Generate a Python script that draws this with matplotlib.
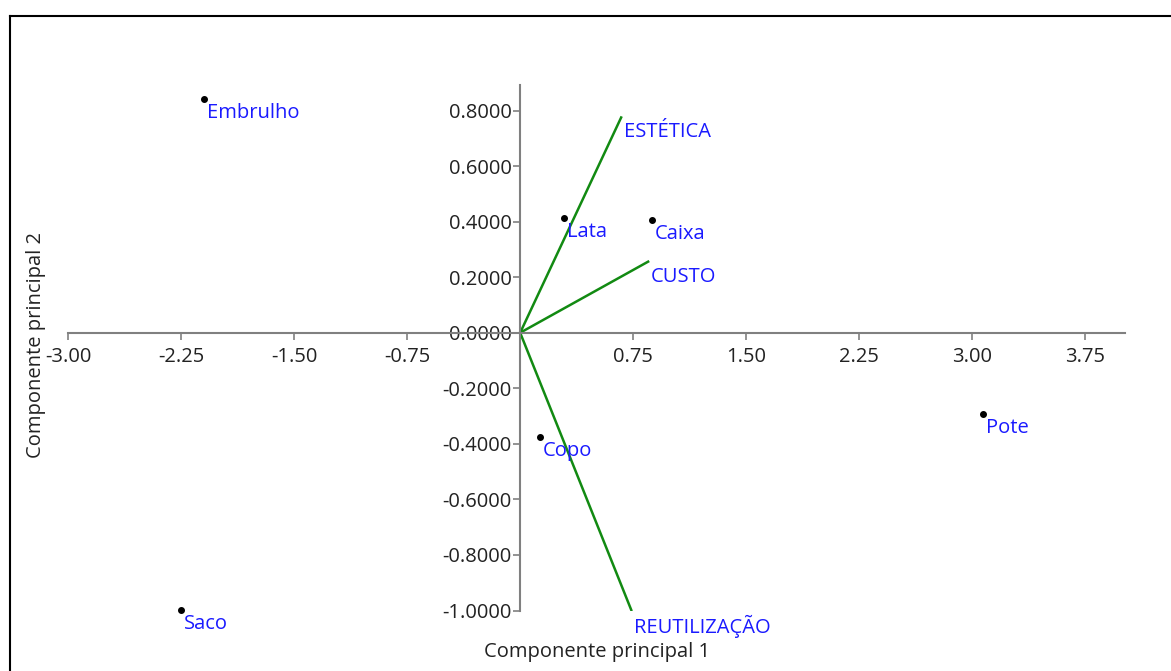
import matplotlib.pyplot as plt
from matplotlib.lines import Line2D

plt.rcParams['font.family'] = ['Open Sans', 'DejaVu Sans']

# scores (objects)
objects = ['Embrulho', 'Lata', 'Caixa', 'Copo', 'Pote', 'Saco']
obj_x = [-2.097, 0.292, 0.876, 0.133, 3.072, -2.25]
obj_y = [0.843, 0.414, 0.407, -0.375, -0.292, -0.998]

# loadings (variables)
variables = ['ESTÉTICA', 'CUSTO', 'REUTILIZAÇÃO']
var_x = [0.670, 0.849, 0.737]
var_y = [0.775, 0.256, -0.998]

xticks = [-3.00, -2.25, -1.50, -0.75, 0.75, 1.50, 2.25, 3.00, 3.75]
yticks = [-1.0, -0.8, -0.6, -0.4, -0.2, 0.0, 0.2, 0.4, 0.6, 0.8]

W, H = 1171, 671
fig = plt.figure(figsize=(W / 100, H / 100), dpi=100)
ax = fig.add_axes([68 / W, (H - 610.5) / H, (1125 - 68) / W, (610.5 - 85) / H])
ax.set_xlim(-3.0, 4.013)
ax.set_ylim(-1.0, 0.892)

# frame around the picture (only left and top visible)
fig.add_artist(Line2D([10 / W, 10 / W], [0, (H - 15.5) / H], color='black', lw=1.5))
fig.add_artist(Line2D([10 / W, 1], [(H - 15.5) / H] * 2, color='black', lw=1.5))

for s in ['top', 'right']:
    ax.spines[s].set_visible(False)
ax.spines['left'].set_position(('data', 0))
ax.spines['bottom'].set_position(('data', 0))
for s in ['left', 'bottom']:
    ax.spines[s].set_color('#808080')
    ax.spines[s].set_linewidth(1.5)

ax.set_xticks(xticks)
ax.set_xticklabels([f'{v:.2f}' for v in xticks])
ax.set_yticks(yticks)
ax.set_yticklabels([f'{v:.4f}' for v in yticks])
ax.tick_params(axis='both', colors='#808080', labelcolor='#222222', labelsize=14.5,
               length=5, width=1.2, direction='out')
ax.tick_params(axis='x', pad=5)
ax.tick_params(axis='y', pad=1)

for vx, vy, name in zip(var_x, var_y, variables):
    ax.plot([0, vx], [0, vy], color='#128a12', lw=1.8)
    ax.annotate(name, (vx, vy), xytext=(2, -3.5), textcoords='offset points',
                ha='left', va='top', color='#1a1aff', fontsize=14.5)

ax.plot(obj_x, obj_y, 'o', color='black', ms=4, ls='none', clip_on=False)
for ox, oy, name in zip(obj_x, obj_y, objects):
    ax.annotate(name, (ox, oy), xytext=(2, -3), textcoords='offset points',
                ha='left', va='top', color='#1a1aff', fontsize=14.5)

fig.text(597 / W, (H - 652) / H, 'Componente principal 1', ha='center', va='center',
         fontsize=14.5, color='#222222')
fig.text(36 / W, (H - 345) / H, 'Componente principal 2', ha='center', va='center',
         rotation=90, fontsize=14.5, color='#222222')

fig.savefig('out.png', dpi=100)
